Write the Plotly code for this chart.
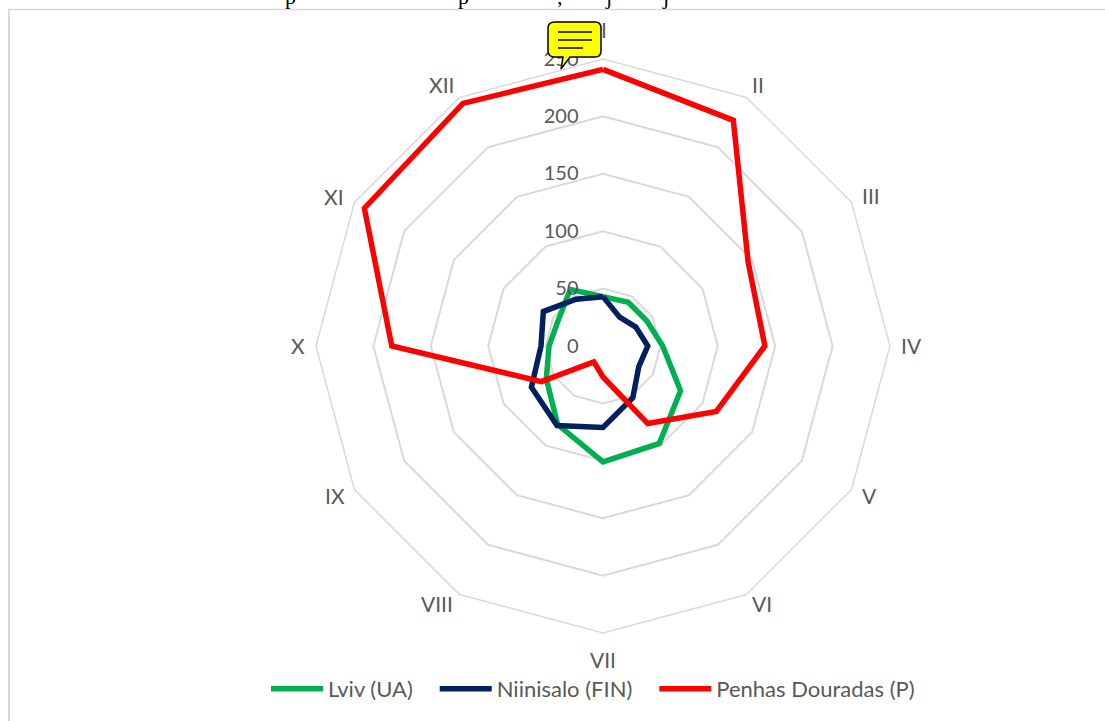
import plotly.graph_objects as go

MONTHS = ["I", "II", "III", "IV", "V", "VI", "VII", "VIII", "IX", "X", "XI", "XII"]
LVIV = [43, 44, 44, 52, 78, 98, 101, 79, 57, 47, 45, 57]
NIINISALO = [43, 29, 33, 39, 36, 52, 71, 80, 72, 54, 60, 47]
PENHAS = [241, 227, 146, 141, 114, 78, 27, 16, 62, 184, 240, 244]
SERIES_NAMES = ["Lviv (UA)", "Niinisalo (FIN)", "Penhas Douradas (P)"]
SERIES_COLORS = ["#00B050", "#002060", "#FF0000"]
RADIAL_TICKS = [0, 50, 100, 150, 200, 250]

W, H = 1105, 721
CX, CY, R = 603, 346, 287
TEXT = "#595959"
GRID = "#D9D9D9"
FONT = "Lato"
# pixel centres of the month labels, placed as in the reference layout
LABEL_CENTRES = [(604, 30), (758, 85), (871, 195), (911, 345), (869, 495), (762, 603),
                 (603, 659), (437, 603), (335, 495), (298, 345), (334, 196), (441, 85)]
NAME_PADDING = ["\u00a0\u00a0\u00a0", "\u00a0\u00a0\u00a0", ""]


def px(x):
    return x / W


def py(y):
    return 1 - y / H


def P(x, y):
    return f"{px(x):.5f},{py(y):.5f}"


fig = go.Figure()
for name, pad, color, vals in zip(SERIES_NAMES, NAME_PADDING, SERIES_COLORS, [LVIV, NIINISALO, PENHAS]):
    fig.add_trace(go.Scatterpolar(
        r=vals + vals[:1], theta=MONTHS + MONTHS[:1], name=name + pad, mode="lines",
        line=dict(color=color, width=5.5, shape="linear"),
    ))

bubble = (f"M {P(555, 22)} L {P(595, 22)} Q {P(601, 22)} {P(601, 28)} L {P(601, 51)} "
          f"Q {P(601, 57)} {P(595, 57)} L {P(570, 57)} L {P(561, 69)} L {P(563, 57)} "
          f"L {P(555, 57)} Q {P(548, 57)} {P(548, 51)} L {P(548, 28)} Q {P(548, 22)} {P(555, 22)} Z")
shapes = [
    dict(type="line", xref="paper", yref="paper", x0=px(9), x1=px(9), y0=py(9), y1=0,
         line=dict(color=GRID, width=2)),
    dict(type="line", xref="paper", yref="paper", x0=px(8), x1=1, y0=py(9.5), y1=py(9.5),
         line=dict(color=GRID, width=1.5)),
    dict(type="path", xref="paper", yref="paper", layer="above", path=bubble,
         fillcolor="#FFFF00", line=dict(color="#000000", width=1.5)),
]
for y, x1 in [(32, 592), (40, 592), (48, 583)]:
    shapes.append(dict(type="line", xref="paper", yref="paper", layer="above",
                       x0=px(558), x1=px(x1), y0=py(y), y1=py(y),
                       line=dict(color="#000000", width=1.5)))

annotations = [
    dict(text=t, x=px(x), y=py(-4), xref="paper", yref="paper", xanchor="center", yanchor="middle",
         showarrow=False, font=dict(family="Liberation Serif", size=22, color="#000000"))
    for t, x in [("p", 290), ("p", 463), (",", 560), ("j", 608), ("j", 665)]
]
for month, (x, y) in zip(MONTHS, LABEL_CENTRES):
    annotations.append(dict(text=month, x=px(x), y=py(y), xref="paper", yref="paper",
                            xanchor="center", yanchor="middle", showarrow=False,
                            font=dict(family=FONT, size=21, color=TEXT)))

fig.update_layout(
    width=W, height=H, margin=dict(l=0, r=0, t=0, b=0),
    paper_bgcolor="white", plot_bgcolor="white",
    font=dict(family=FONT, size=21, color=TEXT),
    polar=dict(
        domain=dict(x=[px(CX - R), px(CX + R)], y=[py(CY + R), py(CY - R)]),
        gridshape="linear", bgcolor="white",
        radialaxis=dict(range=[0, 250], tickvals=RADIAL_TICKS, angle=90, tickangle=90, side="counterclockwise",
                        showline=False, ticks="outside", ticklen=17, tickcolor="rgba(0,0,0,0)",
                        gridcolor=GRID, gridwidth=1.5, tickfont=dict(family=FONT, size=20, color=TEXT)),
        angularaxis=dict(categoryorder="array", categoryarray=MONTHS, direction="clockwise", rotation=90,
                         showgrid=False, linecolor=GRID, linewidth=1.5, ticks="", showticklabels=False),
    ),
    legend=dict(orientation="h", x=px(593), xanchor="center", y=py(689), yanchor="middle",
                itemwidth=52, font=dict(family=FONT, size=22, color=TEXT), bgcolor="rgba(0,0,0,0)"),
    shapes=shapes, annotations=annotations,
)
fig.write_html("out.html", post_script="document.body.style.margin='0';",
               config=dict(displayModeBar=False))
